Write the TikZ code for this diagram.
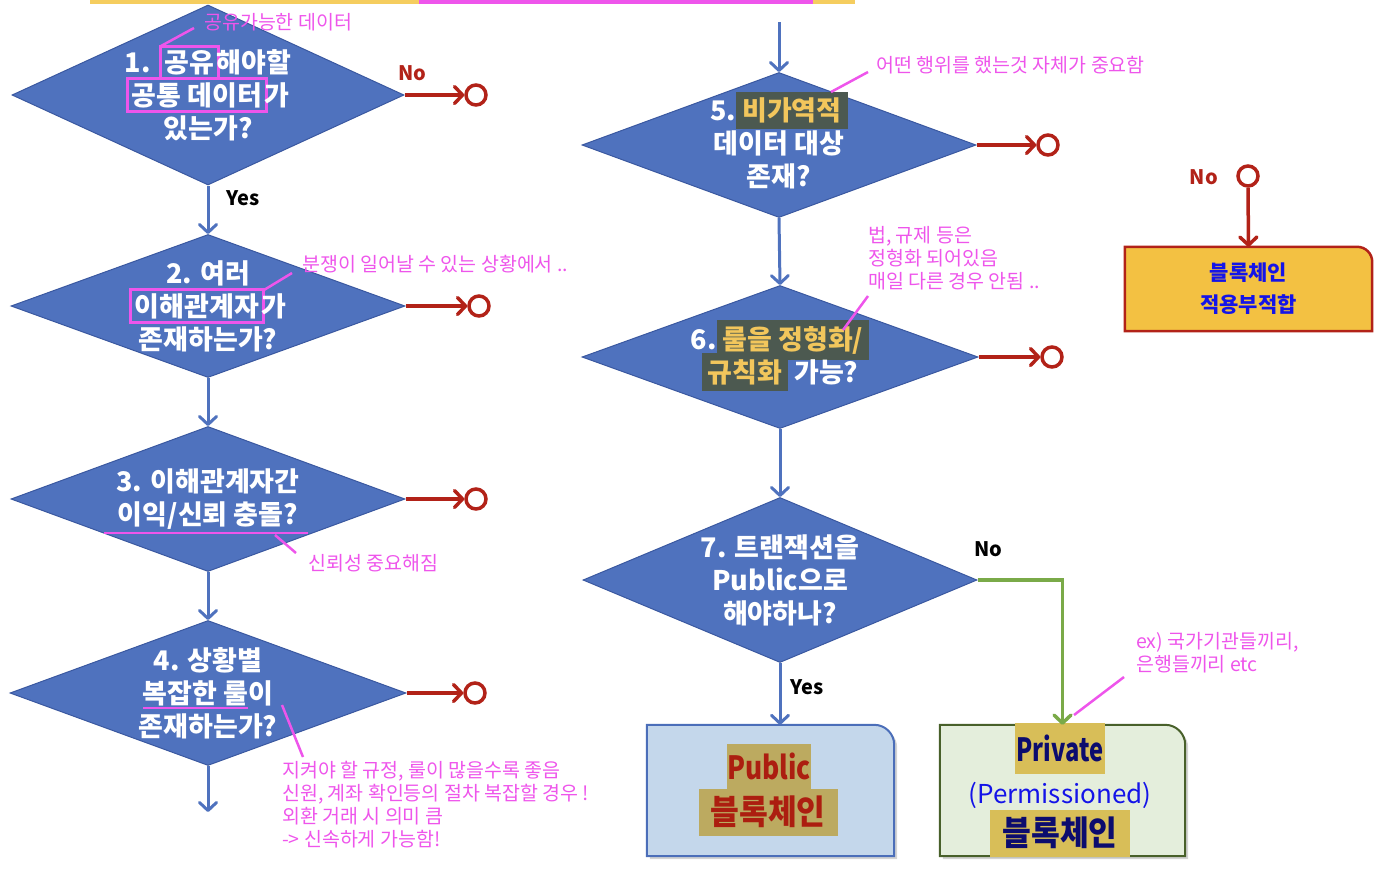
\documentclass[tikz,border=0pt]{standalone}
\usepackage{fontspec}
\setmainfont{Noto Sans CJK KR}
\usetikzlibrary{arrows.meta,positioning,calc,shapes.geometric,shadows}
\definecolor{qBlue}{RGB}{79,114,190}
\definecolor{qEdge}{RGB}{58,88,160}
\definecolor{noRed}{RGB}{178,34,24}
\definecolor{yesGreen}{RGB}{122,170,72}
\definecolor{notePink}{RGB}{238,85,235}
\definecolor{bandYellow}{RGB}{245,205,95}
\definecolor{hlDark}{RGB}{76,89,80}
\definecolor{hlYellow}{RGB}{242,198,92}
\definecolor{pubFill}{RGB}{196,215,235}
\definecolor{pubEdge}{RGB}{75,110,185}
\definecolor{privFill}{RGB}{228,238,220}
\definecolor{privEdge}{RGB}{72,96,42}
\definecolor{unfitFill}{RGB}{243,193,66}
\definecolor{khaki}{RGB}{188,170,96}
\definecolor{goldHL}{RGB}{216,190,88}
\definecolor{darkRed}{RGB}{172,30,16}
\definecolor{navy}{RGB}{12,12,110}
\definecolor{pureBlue}{RGB}{20,20,232}

\newcommand{\hlword}[1]{{\setlength{\fboxsep}{6pt}\smash{\colorbox{hlDark}{\textcolor{hlYellow}{#1}}}}}
\newcommand{\pinkbox}[1]{{\setlength{\fboxsep}{2.5pt}\setlength{\fboxrule}{3pt}\smash{\fcolorbox{notePink}{qBlue}{#1}}\kern-3pt}}
\newcommand{\squeeze}[2]{\scalebox{#1}[1]{#2}}

\begin{document}
\begin{tikzpicture}[x=1pt,y=-1pt,
  decision/.style={diamond,draw=qEdge,line width=1pt,fill=qBlue,inner sep=0pt},
  qtext/.style={text=white,align=center,font=\fontsize{27}{33}\selectfont\bfseries},
  endpt/.style={circle,draw=noRed,line width=3.5pt,fill=white,minimum size=20pt,inner sep=0pt},
  flow/.style={draw=qBlue,line width=3pt,-{Straight Barb[length=8pt,width=17pt,round]}},
  noflow/.style={draw=noRed,line width=3.5pt,-{Straight Barb[length=8pt,width=17pt,round]}},
  yesflow/.style={draw=yesGreen,line width=3.5pt,-{Straight Barb[length=8pt,width=17pt,round]}},
  lbl/.style={font=\fontsize{20}{22}\selectfont\bfseries,inner sep=0pt},
  remark/.style={text=notePink,align=left,font=\fontsize{19.5}{23}\selectfont,inner sep=2pt},
  leader/.style={draw=notePink,line width=2.5pt},
  tabbox/.style={minimum width=247pt,minimum height=131pt,inner sep=0pt}]
  \useasboundingbox (0,0) rectangle (1384,868);
  \fill[bandYellow] (90,0) rectangle (855,4);
  \fill[notePink] (419,0) rectangle (813,4);

  % questions, left column
  \node[decision,minimum width=392pt,minimum height=180pt] (q1) at (208,95) {};
  \node[qtext] (q1t) at (q1) {1. \pinkbox{공유}해야할\\ \pinkbox{공통 데이터}가\\ 있는가?};
  \node[decision,minimum width=394pt,minimum height=143pt] (q2) at (208,306) {};
  \node[qtext] (q2t) at (q2) {2. 여러\\ \pinkbox{이해관계자}가\\ 존재하는가?};
  \node[decision,minimum width=394pt,minimum height=145pt] (q3) at (208,499) {};
  \node[qtext] (q3t) at (q3) {3. 이해관계자간\\ 이익/신뢰 충돌?};
  \node[decision,minimum width=396pt,minimum height=145pt] (q4) at (208,693) {};
  \node[qtext] (q4t) at (q4) {4. 상황별\\ 복잡한 룰이\\ 존재하는가?};

  % questions, right column
  \node[decision,minimum width=394pt,minimum height=145pt] (q5) at (779,145) {};
  \node[qtext] (q5t) at (q5) {5.\hlword{비가역적}\\ 데이터 대상\\ 존재?};
  \node[decision,minimum width=396pt,minimum height=143pt] (q6) at (780,357) {};
  \node[qtext] (q6t) at (q6) {6.\hlword{룰을 정형화/}\\ \hlword{규칙화} 가능?};
  \node[decision,minimum width=394pt,minimum height=165pt] (q7) at (780,580) {};
  \node[qtext] (q7t) at (q7) {7. 트랜잭션을\\ Public으로\\ 해야하나?};

  % end points
  \node[endpt] (e1) at (476,95) {};
  \node[endpt] (e2) at (479,306) {};
  \node[endpt] (e3) at (476,499) {};
  \node[endpt] (e4) at (475,693) {};
  \node[endpt] (e5) at (1048,145) {};
  \node[endpt] (e6) at (1052,357) {};
  \node[endpt] (e0) at (1248,176) {};

  % result boxes
  \node[tabbox] (pub) at (770.5,790.5) {};
  \draw[fill=pubFill,draw=pubEdge,line width=2pt,drop shadow={opacity=0.35,shadow xshift=3pt,shadow yshift=-3pt}]
    (pub.south west) -- (pub.north west) -- ([xshift=-20pt]pub.north east)
    arc[start angle=90,end angle=0,radius=20pt] -- (pub.south east) -- cycle;
  \node[tabbox,minimum width=245pt] (priv) at (1062.5,790.5) {};
  \draw[fill=privFill,draw=privEdge,line width=2pt,drop shadow={opacity=0.35,shadow xshift=3pt,shadow yshift=-3pt}]
    (priv.south west) -- (priv.north west) -- ([xshift=-20pt]priv.north east)
    arc[start angle=90,end angle=0,radius=20pt] -- (priv.south east) -- cycle;
  \node[tabbox,minimum height=84pt] (unfit) at (1248.5,289) {};
  \draw[fill=unfitFill,draw=noRed,line width=2.5pt]
    (unfit.south west) -- (unfit.north west) -- ([xshift=-15pt]unfit.north east)
    arc[start angle=90,end angle=0,radius=15pt] -- (unfit.south east) -- cycle;

  \node[fill=khaki,inner sep=0pt,minimum width=78pt,minimum height=45pt,text=darkRed,
    font=\fontsize{32}{34}\selectfont\bfseries] (pubA) at (769,766) {\squeeze{0.82}{Public}};
  \node[fill=khaki,inner sep=0pt,minimum width=139pt,minimum height=47pt,text=darkRed,
    font=\fontsize{34}{36}\selectfont\bfseries] (pubB) at (768,812) {\squeeze{0.92}{블록체인}};
  \node[fill=goldHL,inner sep=0pt,minimum width=90pt,minimum height=51pt,text=navy,
    font=\fontsize{32}{34}\selectfont\bfseries] (privA) at (1060,748) {\squeeze{0.74}{Private}};
  \node[text=pureBlue,inner sep=0pt,font=\fontsize{26}{28}\selectfont] (privB) at (1060,795) {(Permissioned)};
  \node[fill=goldHL,inner sep=0pt,minimum width=140pt,minimum height=47pt,text=navy,
    font=\fontsize{34}{36}\selectfont\bfseries] (privC) at (1060,833) {\squeeze{0.92}{블록체인}};
  \node[text=pureBlue,align=center,font=\fontsize{21}{32}\selectfont\bfseries] (unfitT) at (unfit) {블록체인\\ 적용부적합};

  % flow
  \coordinate (in5) at (779,22);
  \coordinate (out4) at (208,812);
  \draw[flow] (q1.south) -- (q2.north);
  \draw[flow] (q2.south) -- (q3.north);
  \draw[flow] (q3.south) -- (q4.north);
  \draw[flow] (q4.south) -- (out4);
  \draw[flow] (in5) -- (q5.north);
  \draw[flow] (q5.south) -- (q6.north);
  \draw[flow] (q6.south) -- (q7.north);
  \draw[flow] (q7.south) -- (q7.south |- pub.north);
  \draw[yesflow] (q7.east) -| (priv.north);
  \foreach \q/\e in {q1/e1,q2/e2,q3/e3,q4/e4,q5/e5,q6/e6}
    \draw[noflow] (\q.east) -- (\e.west);
  \draw[noflow] (e0.south) -- (unfit.north);

  \node[lbl,text=noRed,anchor=west] (no1) at (398,73) {No};
  \node[lbl,anchor=west] (yes1) at (226,198) {Yes};
  \node[lbl,anchor=west] (no7) at (974,549) {No};
  \node[lbl,anchor=west] (yes7) at (790,687) {Yes};
  \node[lbl,text=noRed,anchor=east] (no0) at (1218,177) {No};

  % notes
  \node[remark,anchor=west] (n1) at (202,22) {공유가능한 데이터};
  \node[remark,anchor=west] (n2) at (300,264) {분쟁이 일어날 수 있는 상황에서 ..};
  \node[remark,anchor=west] (n3) at (306,563) {신뢰성 중요해짐};
  \node[remark,anchor=north west] (n4) at (280,759) {지켜야 할 규정, 룰이 많을수록 좋음\\ 신원, 계좌 확인등의 절차 복잡할 경우 !\\ 외환 거래 시 의미 큼\\ -> 신속하게 가능함!};
  \node[remark,anchor=west] (n5) at (874,65) {어떤 행위를 했는것 자체가 중요함};
  \node[remark,anchor=north west] (n6) at (866,224) {법, 규제 등은\\ 정형화 되어있음\\ 매일 다른 경우 안됨 ..};
  \node[remark,anchor=north west] (n7) at (1134,630) {ex) 국가기관들끼리,\\ 은행들끼리 etc};

  \coordinate (k1) at (161,46);
  \coordinate (k2) at (264,290);
  \coordinate (k3) at (275,535);
  \coordinate (k4) at (282,705);
  \coordinate (k5) at (831,92);
  \coordinate (k6) at (843,330);
  \coordinate (k7) at (1074,715);
  \draw[leader] (k1) -- ($(n1.west)+(-8,6)$);
  \draw[leader] (k2) -- ($(n2.west)+(-8,9)$);
  \draw[leader] (k3) -- ($(n3.west)+(-10,-10)$);
  \draw[leader] (k4) -- ($(n4.north west)+(23,-2)$);
  \draw[leader] (k5) -- ($(n5.west)+(-6,7)$);
  \draw[leader] (k6) -- ($(n6.north west)+(2,72)$);
  \draw[leader] (k7) -- ($(n7.north west)+(-10,47)$);
  \draw[leader] (104,533) -- (308,533);
  \draw[leader] (143,708) -- (248,708);
\end{tikzpicture}
\end{document}
